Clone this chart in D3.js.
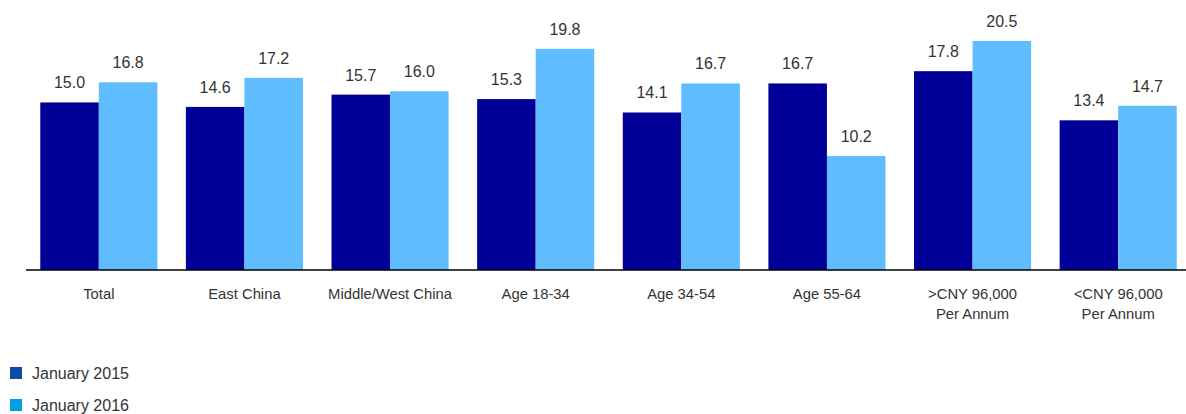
<!DOCTYPE html>
<html>
<head>
<meta charset="utf-8">
<script src="https://cdn.jsdelivr.net/npm/d3@7"></script>
<style>
  body { margin: 0; background: #fff; }
  text { font-family: "Liberation Sans", Arial, sans-serif; fill: #333; }
</style>
</head>
<body>
<div id="chart"></div>
<script>
// categories and the two survey waves
const categories = ['Total', 'East China', 'Middle/West China', 'Age 18-34', 'Age 34-54', 'Age 55-64', '>CNY 96,000|Per Annum', '<CNY 96,000|Per Annum'];
const jan2015 = [15.0, 14.6, 15.7, 15.3, 14.1, 16.7, 17.8, 13.4];
const jan2016 = [16.8, 17.2, 16.0, 19.8, 16.7, 10.2, 20.5, 14.7];
const seriesNames = ['January 2015', 'January 2016'];

const barColors = ['#000099', '#5fbdff'];
const legendColors = ['#0b4ea2', '#00a0e6'];

const w = 1186;
const h = 414;
const baseY = 270;

const svg = d3.select('#chart')
  .append('svg')
  .attr('width', w)
  .attr('height', h);

const xScale = d3.scaleBand()
  .domain(categories)
  .range([26, 1191])
  .paddingInner(0.196)
  .paddingOuter(0.098);

const xInner = d3.scaleBand()
  .domain([0, 1])
  .range([0, xScale.bandwidth()]);

const yScale = d3.scaleLinear()
  .domain([0, 20.5])
  .range([baseY, 41]);

const rows = categories.map((c, i) => ({cat: c, vals: [jan2015[i], jan2016[i]]}));

const groups = svg.selectAll('g.group')
  .data(rows)
  .enter()
  .append('g')
  .attr('class', 'group')
  .attr('transform', d => `translate(${xScale(d.cat)}, 0)`);

groups.selectAll('rect')
  .data(d => d.vals)
  .enter()
  .append('rect')
  .attr('x', (d, i) => xInner(i))
  .attr('y', d => yScale(d))
  .attr('width', xInner.bandwidth())
  .attr('height', d => baseY - yScale(d))
  .attr('fill', (d, i) => barColors[i]);

// value labels above each bar
groups.selectAll('text.value')
  .data(d => d.vals)
  .enter()
  .append('text')
  .attr('class', 'value')
  .attr('x', (d, i) => xInner(i) + xInner.bandwidth() / 2)
  .attr('y', d => yScale(d) - 14)
  .attr('text-anchor', 'middle')
  .style('font-size', '16px')
  .text(d => d.toFixed(1));

// x axis line and category labels
const xAxis = d3.axisBottom(xScale).tickSize(0).tickFormat('');
const axisG = svg.append('g')
  .attr('transform', `translate(0, ${baseY})`)
  .call(xAxis);
axisG.select('.domain')
  .attr('stroke', '#000')
  .attr('stroke-width', 1.5)
  .attr('d', `M26,0H${w}`);

const catLabels = svg.selectAll('text.cat')
  .data(categories)
  .enter()
  .append('text')
  .attr('class', 'cat')
  .attr('x', d => xScale(d) + xScale.bandwidth() / 2)
  .attr('y', 299)
  .attr('text-anchor', 'middle')
  .style('font-size', '14.8px');

catLabels.selectAll('tspan')
  .data(d => d.split('|'))
  .enter()
  .append('tspan')
  .attr('x', function() { return d3.select(this.parentNode).attr('x'); })
  .attr('dy', (d, i) => i === 0 ? 0 : 20)
  .text(d => d);

// legend
const legend = svg.selectAll('g.legend')
  .data(seriesNames)
  .enter()
  .append('g')
  .attr('class', 'legend')
  .attr('transform', (d, i) => `translate(10, ${367 + i * 32})`);

legend.append('rect')
  .attr('width', 12)
  .attr('height', 12)
  .attr('fill', (d, i) => legendColors[i]);

legend.append('text')
  .attr('x', 22)
  .attr('y', 12)
  .style('font-size', '16px')
  .text(d => d);
</script>
</body>
</html>
